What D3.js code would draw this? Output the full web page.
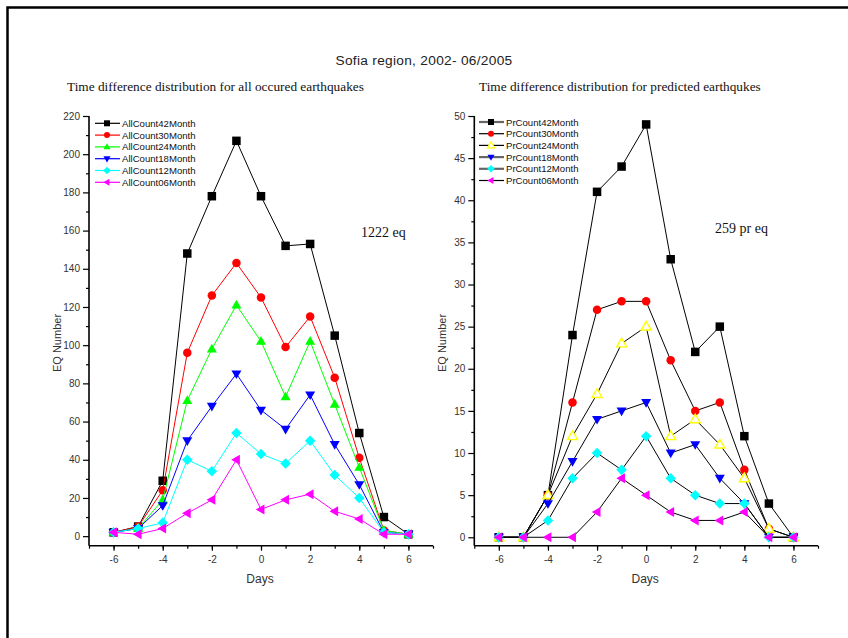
<!DOCTYPE html>
<html><head><meta charset="utf-8">
<script src="https://cdn.jsdelivr.net/npm/d3@7"></script>
<style>body{margin:0;background:#fff}svg{display:block}</style>
</head><body>
<svg id="c" width="848" height="638"></svg>
<script>
const days = [-6,-5,-4,-3,-2,-1,0,1,2,3,4,5,6];
const allNames = ["AllCount42Month","AllCount30Month","AllCount24Month","AllCount18Month","AllCount12Month","AllCount06Month"];
const all42 = [2,5,29,148,178,207,178,152,153,105,54,10,1];
const all30 = [2,5,24,96,126,143,125,99,115,83,41,3,1];
const all24 = [2,4,19,71,98,121,102,73,102,69,36,3,1];
const all18 = [2,4,16,50,68,85,66,56,74,48,27,2,1];
const all12 = [2,4,7,40,34,54,43,38,50,32,20,2,1];
const all06 = [2,1,4,12,19,40,14,19,22,13,9,1,1];
const prNames = ["PrCount42Month","PrCount30Month","PrCount24Month","PrCount18Month","PrCount12Month","PrCount06Month"];
const pr42 = [0,0,5,24,41,44,49,33,22,25,12,4,0];
const pr30 = [0,0,5,16,27,28,28,21,15,16,8,1,0];
const pr24 = [0,0,5,12,17,23,25,12,14,11,7,1,0];
const pr18 = [0,0,4,9,14,15,16,10,11,7,4,0,0];
const pr12 = [0,0,2,7,10,8,12,7,5,4,4,0,0];
const pr06 = [0,0,0,0,3,7,5,3,2,2,3,0,0];
const colors = ["#000000","#ff0000","#00ff00","#0000ff","#00ffff","#ff00ff"];
const shapes = ["square","circle","up","down","diamond","left"];
const leftTicks = d3.range(0,221,20);
const rightTicks = d3.range(0,51,5);
const xTicks = d3.range(-6,7,2);

const svg = d3.select("#c");
// page frame
svg.append("path").attr("d","M7.5,638 V7.5 H848").attr("fill","none").attr("stroke","#000").attr("stroke-width",2.5);

svg.append("text").attr("x",424).attr("y",65).attr("text-anchor","middle")
  .attr("font-family","Liberation Sans, Arial, sans-serif").attr("font-size",13.7).attr("fill","#222")
  .attr("letter-spacing",0.3)
  .text("Sofia region, 2002- 06/2005");

function symPath(shape, s){
  const h = s/2;
  switch(shape){
    case "square": return `M${-h},${-h}H${h}V${h}H${-h}Z`;
    case "circle": return d3.symbol(d3.symbolCircle, Math.PI*h*h)();
    case "up": { const r=s*0.62; return `M0,${-r}L${r*0.95},${r*0.65}L${-r*0.95},${r*0.65}Z`; }
    case "down": { const r=s*0.62; return `M0,${r}L${r*0.95},${-r*0.65}L${-r*0.95},${-r*0.65}Z`; }
    case "diamond": { const r=s*0.62; return `M0,${-r}L${r},0L0,${r}L${-r},0Z`; }
    case "left": { const r=s*0.62; return `M${-r},0L${r*0.65},${-r*0.95}L${r*0.65},${r*0.95}Z`; }
  }
}

function panel(opt){
  const g = svg.append("g");
  const x = d3.scaleLinear().domain([-7,7]).range([opt.x0, opt.x1]);
  const y = d3.scaleLinear().domain(opt.ydom).range([opt.yb, opt.yt]);
  const font = "Liberation Sans, Arial, sans-serif";
  const fmt = d => String(d);
  g.append("text").attr("x",opt.subX).attr("y",91).attr("font-family","Liberation Serif, Times New Roman, serif")
    .attr("font-size",13.3).attr("fill","#111").text(opt.subtitle);
  const ya = d3.axisLeft(y).tickValues(opt.yTicks).tickSize(6).tickPadding(3).tickFormat(fmt);
  const yag = g.append("g").attr("transform",`translate(${opt.x0},0)`).call(ya);
  const ym = d3.axisLeft(y).tickValues(opt.yMinor).tickSize(3).tickFormat("");
  const ymg = g.append("g").attr("transform",`translate(${opt.x0},0)`).call(ym);
  const xa = d3.axisBottom(x).tickValues(xTicks).tickSize(5).tickPadding(5).tickFormat(fmt);
  const xag = g.append("g").attr("transform",`translate(0,${opt.yb})`).call(xa);
  const xm = d3.axisBottom(x).tickValues(d3.range(-7,8,1)).tickSize(3).tickFormat("");
  const xmg = g.append("g").attr("transform",`translate(0,${opt.yb})`).call(xm);
  [yag,ymg,xag,xmg].forEach(a=>{
    a.select(".domain").attr("stroke","#000").attr("stroke-width",1.6);
    a.selectAll(".tick line").attr("stroke","#000").attr("stroke-width",1.2);
    a.selectAll("text").attr("font-family",font).attr("font-size",10).attr("fill","#333");
  });
  ymg.select(".domain").remove(); xmg.select(".domain").remove();
  yag.select(".domain").attr("d",`M0,${opt.yb}V${opt.yt}`);
  xag.select(".domain").attr("d",`M${opt.x0},0H${opt.x1}`);
  g.append("text").attr("x",(opt.x0+ x(7))/2 - 1).attr("y",opt.yb+37).attr("text-anchor","middle")
    .attr("font-family",font).attr("font-size",12).attr("fill","#333").text("Days");
  g.append("text").attr("transform",`translate(${opt.x0-28},343) rotate(-90)`).attr("text-anchor","middle")
    .attr("font-family",font).attr("font-size",11).attr("fill","#333").text("EQ Number");
  g.append("text").attr("x",opt.annX).attr("y",opt.annY).attr("font-family","Liberation Serif, Times New Roman, serif")
    .attr("font-size",14).attr("fill","#111").text(opt.ann);
  const line = d3.line().x((d,i)=>x(days[i])).y(d=>y(d));
  opt.series.forEach((vals,k)=>{
    const col = colors[k];
    g.append("path").attr("d",line(vals)).attr("fill","none")
      .attr("stroke", opt.lineBlack ? "#000" : col).attr("stroke-width",1);
    vals.forEach((v,i)=>{
      const open = opt.openYellow && k===2;
      g.append("path").attr("d",symPath(shapes[k],8.5))
        .attr("transform",`translate(${x(days[i])},${y(v)})`)
        .attr("fill", open ? "#fff" : col)
        .attr("stroke", open ? "#ffff00" : "none").attr("stroke-width", open?1.4:0);
    });
  });
  opt.names.forEach((n,k)=>{
    const ly = opt.legY + k*opt.legDy;
    const lc = opt.lineBlack ? (opt.legGray[k] ? "#666" : "#000") : colors[k];
    g.append("line").attr("x1",opt.legX).attr("x2",opt.legX+25).attr("y1",ly).attr("y2",ly)
      .attr("stroke",lc).attr("stroke-width", opt.lineBlack && opt.legGray[k] ? 2.2 : 1.2);
    const open = opt.openYellow && k===2;
    g.append("path").attr("d",symPath(shapes[k],6)).attr("transform",`translate(${opt.legX+12},${ly})`)
      .attr("fill", open ? "#fff" : colors[k])
      .attr("stroke", open ? "#ffff00" : "none").attr("stroke-width",1.2);
    g.append("text").attr("x",opt.legX+27).attr("y",ly+3.5).attr("font-family",font)
      .attr("font-size",9.6).attr("fill","#111").text(n);
  });
}

panel({x0:89, x1:433, yb:545.7, yt:116, ydom:[-5,220], yTicks:leftTicks, yMinor:d3.range(10,220,20),
  subtitle:"Time difference distribution for all occured earthquakes", subX:67,
  ann:"1222 eq", annX:361, annY:237,
  series:[all42,all30,all24,all18,all12,all06], names:allNames, legX:95, legY:123.3, legDy:11.8});
panel({x0:474.3, x1:818, yb:545.7, yt:116, ydom:[-1,50], yTicks:rightTicks, yMinor:d3.range(2.5,50,5),
  subtitle:"Time difference distribution for predicted earthqukes", subX:479,
  ann:"259 pr eq", annX:715, annY:233, lineBlack:true, openYellow:true,
  legGray:[true,false,false,true,true,false],
  series:[pr42,pr30,pr24,pr18,pr12,pr06], names:prNames, legX:479, legY:122, legDy:11.7});
</script>
</body></html>
